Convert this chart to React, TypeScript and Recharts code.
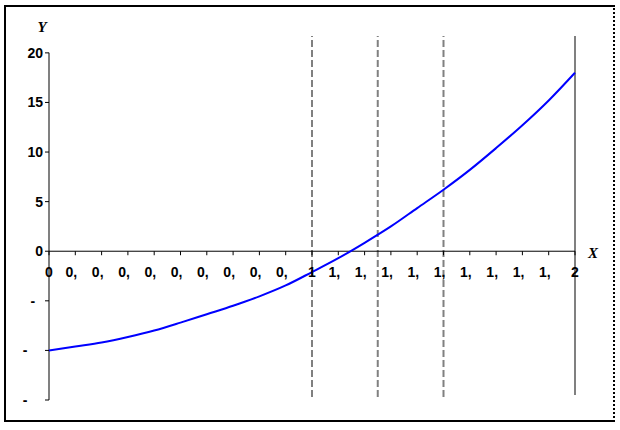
import React from "react";
import {
  LineChart,
  Line,
  XAxis,
  YAxis,
  ReferenceLine,
  ReferenceDot,
} from "recharts";

const xValues = [
  0, 0.1, 0.2, 0.3, 0.4, 0.5, 0.6, 0.7, 0.8, 0.9, 1, 1.1, 1.2, 1.3, 1.4, 1.5,
  1.6, 1.7, 1.8, 1.9, 2,
];
const yValues = [
  -10, -9.6, -9.2, -8.65, -8.0, -7.2, -6.35, -5.5, -4.55, -3.45, -2.1, -0.7,
  0.85, 2.5, 4.35, 6.2, 8.2, 10.4, 12.7, 15.2, 18.0,
];
const xTickLabels = [
  "0", "0,", "0,", "0,", "0,", "0,", "0,", "0,", "0,", "0,",
  "1", "1,", "1,", "1,", "1,", "1,", "1,", "1,", "1,", "1,", "2",
];
const yTicks = [-15, -10, -5, 0, 5, 10, 15, 20];
const dashedLines = [1, 1.25, 1.5];
const solidLine = 2;

const data = xValues.map((x, i) => ({ x, y: yValues[i] }));

const labelFont = "'Liberation Sans', Arial, sans-serif";
const titleFont = "'Liberation Serif', 'Times New Roman', serif";

const YTick = (props: any) => {
  const { x, y, payload } = props;
  const v = payload.value as number;
  if (v < 0) {
    // negative labels are clipped to the minus sign
    const digits = String(Math.abs(v)).length;
    return (
      <text
        x={x - digits * 7.8}
        y={y}
        dy={5}
        textAnchor="end"
        fontFamily={labelFont}
        fontWeight="bold"
        fontSize={14}
        fill="#000"
      >
        -
      </text>
    );
  }
  return (
    <text
      x={x}
      y={y}
      dy={5}
      textAnchor="end"
      fontFamily={labelFont}
      fontWeight="bold"
      fontSize={14}
      fill="#000"
    >
      {v}
    </text>
  );
};

const makeXTick = (label: string) => (props: any) => {
  const { cx, cy } = props;
  const clipped = label.endsWith(",");
  return (
    <g>
      <line x1={cx} y1={cy} x2={cx} y2={cy + 4} stroke="#000" strokeWidth={1} />
      <text
        x={clipped ? cx - 9.75 : cx}
        y={cy + 26}
        textAnchor={clipped ? "start" : "middle"}
        fontFamily={labelFont}
        fontWeight="bold"
        fontSize={14}
        fill="#000"
      >
        {label}
      </text>
    </g>
  );
};

export default function App() {
  return (
    <div style={{ position: "absolute", left: 0, top: 0, width: 620, height: 430, background: "#fff" }}>
      <div
        style={{
          position: "absolute",
          left: 4,
          top: 5,
          width: 607,
          height: 413,
          borderLeft: "2px solid #000",
          borderTop: "2px solid #000",
          borderBottom: "2px solid #000",
          borderRight: "2px dotted #000",
        }}
      />
      <div style={{ position: "absolute", left: 0, top: 0 }}>
        <LineChart
          width={620}
          height={430}
          data={data}
          margin={{ top: 36, right: 45, bottom: 30, left: 0 }}
        >
          <XAxis
            dataKey="x"
            type="number"
            domain={[0, 2]}
            hide
          />
          <YAxis
            type="number"
            domain={[-15, 21.7]}
            ticks={yTicks}
            allowDataOverflow
            width={49}
            axisLine={false}
            tickLine={{ stroke: "#000" }}
            tickSize={4}
            tickMargin={2}
            tick={<YTick />}
            interval={0}
          />
          {dashedLines.map((x) => (
            <ReferenceLine
              key={x}
              segment={[{ x, y: -14.7 }, { x, y: 21.7 }]}
              stroke="#808080"
              strokeWidth={2}
              strokeDasharray="7 3"
            />
          ))}
          <ReferenceLine
            segment={[{ x: solidLine, y: -14.5 }, { x: solidLine, y: 21.7 }]}
            stroke="#808080"
            strokeWidth={2}
          />
          <ReferenceLine
            segment={[{ x: 0, y: -15 }, { x: 0, y: 20 }]}
            stroke="#808080"
            strokeWidth={2}
          />
          <ReferenceLine
            segment={[{ x: 0, y: 0 }, { x: 2, y: 0 }]}
            stroke="#000"
            strokeWidth={1}
          />
          {xValues.map((x, i) => (
            <ReferenceDot
              key={"t" + i}
              x={x}
              y={0}
              r={0}
              shape={makeXTick(xTickLabels[i])}
            />
          ))}
          <ReferenceDot
            x={0}
            y={20}
            r={0}
            shape={(p: any) => (
              <text
                x={p.cx - 7}
                y={p.cy - 21}
                textAnchor="middle"
                fontFamily={titleFont}
                fontWeight="bold"
                fontStyle="italic"
                fontSize={15}
                fill="#000"
              >
                Y
              </text>
            )}
          />
          <ReferenceDot
            x={2}
            y={0}
            r={0}
            shape={(p: any) => (
              <text
                x={p.cx + 18}
                y={p.cy + 7}
                textAnchor="middle"
                fontFamily={titleFont}
                fontWeight="bold"
                fontStyle="italic"
                fontSize={15}
                fill="#000"
              >
                X
              </text>
            )}
          />
          <Line
            type="monotone"
            dataKey="y"
            stroke="#0000ff"
            strokeWidth={2}
            dot={false}
            isAnimationActive={false}
          />
        </LineChart>
      </div>
    </div>
  );
}
